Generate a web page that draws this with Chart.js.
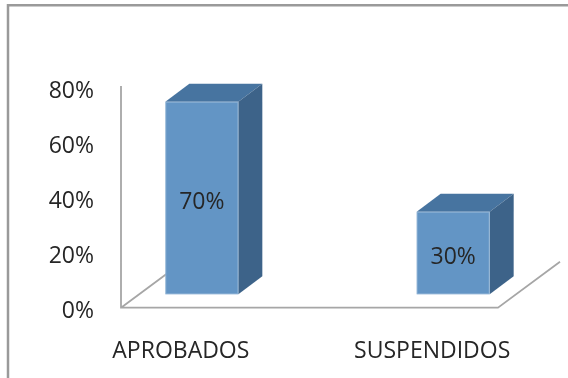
<!DOCTYPE html>
<html>
<head>
<meta charset="utf-8">
<script src="https://cdn.jsdelivr.net/npm/chart.js@4.4.0/dist/chart.umd.min.js"></script>
<style>
  html, body { margin: 0; padding: 0; background: #fff; }
  #wrap { width: 568px; height: 378px; }
</style>
</head>
<body>
<div id="wrap"><canvas id="myChart" width="568" height="378"></canvas></div>
<script>
const categories = ["APROBADOS", "SUSPENDIDOS"];
const values = [0.70, 0.30];
const tickValues = [0, 0.2, 0.4, 0.6, 0.8];

const pct = v => Math.round(v * 100) + '%';

// fake 3d: floor, walls and bar faces drawn around the bar elements
const box3d = {
  id: 'box3d',
  beforeDraw(chart) {
    const c = chart.ctx;
    c.save();
    c.fillStyle = '#fff';
    c.fillRect(0, 0, chart.width, chart.height);
    c.strokeStyle = '#9a9a9a';
    c.lineWidth = 2.5;
    c.beginPath();
    c.moveTo(8, chart.height + 5);
    c.lineTo(8, 5.3);
    c.lineTo(chart.width + 5, 5.3);
    c.stroke();
    c.restore();
  },
  beforeDatasetsDraw(chart) {
    const c = chart.ctx;
    const a = chart.chartArea;
    const y0 = chart.scales.y.getPixelForValue(0) - 3.3;
    c.save();
    c.strokeStyle = '#a6a6a6';
    c.lineWidth = 1.8;
    c.beginPath();
    c.moveTo(a.left, a.top - 5);
    c.lineTo(a.left, y0);
    c.lineTo(a.right, y0);
    c.lineTo(a.right + 62, y0 - 46);
    c.moveTo(a.left, y0);
    c.lineTo(a.left + 62, y0 - 46);
    c.stroke();
    c.restore();
  },
  afterDatasetsDraw(chart) {
    const c = chart.ctx;
    const meta = chart.getDatasetMeta(0);
    const dx = 24, dy = -18;
    c.save();
    meta.data.forEach((el, i) => {
      const p = el.getProps(['x', 'y', 'base', 'width'], true);
      const l = p.x + 18 - p.width / 2, r = p.x + 18 + p.width / 2;
      const t = p.y - 16.7, b = p.base - 16.7;
      // top
      c.fillStyle = '#4774a0';
      c.beginPath();
      c.moveTo(l, t); c.lineTo(l + dx, t + dy); c.lineTo(r + dx, t + dy); c.lineTo(r, t);
      c.closePath(); c.fill();
      // side
      c.fillStyle = '#3d6389';
      c.beginPath();
      c.moveTo(r, t); c.lineTo(r + dx, t + dy); c.lineTo(r + dx, b + dy); c.lineTo(r, b);
      c.closePath(); c.fill();
      // front
      c.fillStyle = '#6395c5';
      c.fillRect(l, t, r - l, b - t);
      c.strokeStyle = 'rgba(255,255,255,0.25)';
      c.lineWidth = 1;
      c.strokeRect(l + 0.5, t + 0.5, r - l - 1, b - t - 1);
      // value label
      c.fillStyle = '#262626';
      c.font = '23px "Open Sans"';
      c.textAlign = 'center';
      c.textBaseline = 'middle';
      c.fillText(pct(values[i]), (l + r) / 2, (t + b) / 2 + 4);
    });
    c.restore();
  }
};

const ctx = document.getElementById('myChart');

new Chart(ctx, {
  type: 'bar',
  data: {
    datasets: [{
      data: values.map((v, i) => ({ x: i, y: v })),
      backgroundColor: 'rgba(0,0,0,0)',
      borderWidth: 0,
      barThickness: 73
    }]
  },
  options: {
    responsive: false,
    animation: false,
    layout: { padding: { left: 0, top: 91, right: 70, bottom: 0 } },
    plugins: { legend: { display: false }, tooltip: { enabled: false } },
    scales: {
      x: {
        type: 'linear',
        min: -0.25,
        max: 1.25,
        offset: false,
        grid: { display: false, drawTicks: false, offset: false },
        border: { display: false },
        afterBuildTicks: s => { s.ticks = categories.map((c, i) => ({ value: i })); },
        afterFit: s => { s.height = 67; },
        ticks: {
          callback: v => categories[v],
          labelOffset: -3,
          padding: 27,
          maxRotation: 0,
          autoSkip: false,
          color: '#262626',
          font: { family: 'Open Sans', size: 23 }
        }
      },
      y: {
        min: 0,
        max: 0.8,
        grid: { display: false, drawTicks: false },
        border: { display: false },
        afterBuildTicks: s => { s.ticks = tickValues.map(v => ({ value: v })); },
        afterFit: s => { s.width = 121; },
        ticks: {
          callback: v => pct(v),
          padding: 27,
          color: '#262626',
          font: { family: 'Open Sans', size: 23 }
        }
      }
    }
  },
  plugins: [box3d]
});
</script>
</body>
</html>
